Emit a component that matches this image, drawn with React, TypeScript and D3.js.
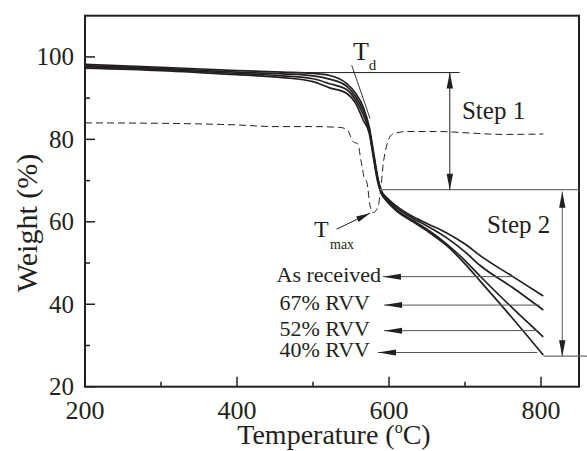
import React from "react";
import * as d3 from "d3";

// ---------- data ----------
const temps = [200, 300, 400, 460, 500, 522, 544, 556, 566, 574, 580, 585, 590, 597, 610, 630, 650, 676, 700, 720, 763, 803];
const asReceived = [98.2, 97.5, 96.7, 96.3, 96.0, 95.5, 93.6, 91.2, 87.9, 83.0, 76.5, 71.0, 67.5, 65.9, 63.8, 61.4, 59.6, 57.3, 54.6, 51.8, 46.7, 42.0];
const rvv67 = [97.9, 97.2, 96.3, 95.9, 95.4, 94.6, 92.9, 90.4, 87.0, 82.5, 76.0, 70.6, 67.2, 65.6, 63.4, 61.0, 59.0, 56.1, 52.7, 49.4, 44.0, 38.6];
const rvv52 = [97.6, 97.0, 96.0, 95.4, 94.7, 93.5, 92.1, 89.6, 86.0, 82.0, 75.5, 70.2, 67.0, 65.3, 62.9, 60.5, 58.2, 54.6, 50.6, 46.8, 39.0, 32.1];
const rvv40 = [97.3, 96.7, 95.7, 95.0, 94.0, 92.5, 91.2, 88.8, 84.7, 81.5, 75.0, 69.8, 66.8, 65.0, 62.6, 60.2, 57.8, 54.2, 49.8, 45.6, 36.5, 27.7];

const dtgTemps = [200, 300, 400, 450, 500, 535, 545, 550, 553, 559, 563, 567, 571, 575, 579, 583, 586, 590, 592, 595, 598, 605, 624, 667, 700, 750, 803];
const dtgValues = [84.0, 83.9, 83.5, 83.1, 83.1, 82.9, 82.4, 80.5, 79.4, 78.9, 75.0, 71.0, 69.5, 64.0, 62.2, 62.8, 64.0, 69.5, 73.4, 77.0, 79.2, 81.3, 81.9, 81.9, 81.6, 81.2, 81.3];

const seriesNames = ["As received", "67% RVV", "52% RVV", "40% RVV"];
const seriesValues = [asReceived, rvv67, rvv52, rvv40];
// legend arrows: level (weight), tip temperature, tail temperature
const legendLevels = [46.7, 39.8, 33.6, 28.3];
const legendTips = [592, 593.5, 593.5, 585.5];
const legendTails = [763, 798, 795, 795];
const legendTextEnds = [589.5, 575, 575, 575];

const xMajor = [200, 400, 600, 800];
const xMinor = [300, 500, 700];
const yMajor = [20, 40, 60, 80, 100];
const yMinor = [30, 50, 70, 90];

// annotation levels (data units)
const tdLevel = 96.2;
const step2Level = 67.8;
const endLevel = 27.4;

const W = 587;
const H = 451;
const ink = "#231f20";
const font = "Liberation Serif, Times New Roman, Times, serif";
const ts = { fontFamily: font } as React.CSSProperties;

function Arrowhead({ tip, from, len = 16, half = 3.2, fill = ink }: { tip: [number, number]; from: [number, number]; len?: number; half?: number; fill?: string }) {
  const dx = tip[0] - from[0];
  const dy = tip[1] - from[1];
  const d = Math.hypot(dx, dy) || 1;
  const ux = dx / d, uy = dy / d;
  const bx = tip[0] - ux * len, by = tip[1] - uy * len;
  const px = -uy * half, py = ux * half;
  const pts = [tip, [bx + px, by + py], [bx - px, by - py]].map((p) => p.join(",")).join(" ");
  return <polygon points={pts} fill={fill} />;
}

export default function App() {
  const x = d3.scaleLinear().domain([200, 850]).range([85, 579]);
  const y = d3.scaleLinear().domain([20, 110]).range([386.7, 15.7]);

  const line = d3
    .line<[number, number]>()
    .x((d) => x(d[0]))
    .y((d) => y(d[1]))
    .curve(d3.curveMonotoneX);

  const series = seriesValues.map((vals) => vals.map((v, i) => [temps[i], v] as [number, number]));
  const dtg = dtgValues.map((v, i) => [dtgTemps[i], v] as [number, number]);

  const [x0, x1] = x.range();
  const [yb, yt] = y.range();

  return (
    <svg width={W} height={H} style={{ position: "absolute", left: 0, top: 0, background: "#fff", fontFamily: font }}>
      <rect x={0} y={0} width={W} height={H} fill="#fff" />
      {/* curves */}
      {series.map((s, i) => (
        <path key={i} d={line(s) || ""} fill="none" stroke={ink} strokeWidth={1.7} />
      ))}
      <path d={line(dtg) || ""} fill="none" stroke={ink} strokeWidth={1} strokeDasharray="7,4" />

      {/* frame */}
      <rect x={x0} y={yt} width={x1 - x0} height={yb - yt} fill="none" stroke={ink} strokeWidth={2} />

      {/* ticks */}
      {xMajor.map((t) => (
        <g key={"xm" + t}>
          <line x1={x(t)} x2={x(t)} y1={yb} y2={yb - 10} stroke={ink} strokeWidth={1.5} />
          <text style={ts} x={x(t)} y={yb + 32} textAnchor="middle" fontSize={26} fill={ink}>{t}</text>
        </g>
      ))}
      {xMinor.map((t) => (
        <line key={"xn" + t} x1={x(t)} x2={x(t)} y1={yb} y2={yb - 5} stroke={ink} strokeWidth={1.5} />
      ))}
      {yMajor.map((t) => (
        <g key={"ym" + t}>
          <line x1={x0} x2={x0 + 10} y1={y(t)} y2={y(t)} stroke={ink} strokeWidth={1.5} />
          <text style={ts} x={74} y={y(t) + 8.5} textAnchor="end" fontSize={25} fill={ink}>{t}</text>
        </g>
      ))}
      {yMinor.map((t) => (
        <line key={"yn" + t} x1={x0} x2={x0 + 5} y1={y(t)} y2={y(t)} stroke={ink} strokeWidth={1.5} />
      ))}

      {/* axis labels */}
      <text style={ts} x={334} y={444} textAnchor="middle" fontSize={28} fill={ink}>
        Temperature (<tspan dy={-11} fontSize={16}>o</tspan><tspan dy={11}>C)</tspan>
      </text>
      <text style={ts} transform={`translate(37,223) rotate(-90)`} textAnchor="middle" fontSize={30} fill={ink}>
        Weight (%)
      </text>

      {/* Td annotation */}
      <line x1={x(457)} x2={x(693)} y1={y(tdLevel)} y2={y(tdLevel)} stroke={ink} strokeWidth={1} />
      <line x1={x(550.9)} y1={y(98.0)} x2={x(575)} y2={y(85.1)} stroke={ink} strokeWidth={0.9} />
      <text style={ts} x={x(552.6)} y={y(99.3)} fontSize={26} fill={ink}>T</text>
      <text style={ts} x={x(573.5)} y={y(96.9)} fontSize={15} fill={ink}>d</text>

      {/* Step 1 */}
      <line x1={x(588)} x2={x(850)} y1={y(step2Level)} y2={y(step2Level)} stroke="#6f6f6f" strokeWidth={1.2} />
      <line x1={x(680)} x2={x(680)} y1={y(tdLevel)} y2={y(step2Level)} stroke={ink} strokeWidth={1} />
      <Arrowhead tip={[x(680), y(tdLevel)]} from={[x(680), y(step2Level)]} />
      <Arrowhead tip={[x(680), y(step2Level)]} from={[x(680), y(tdLevel)]} />
      <text style={ts} x={x(696)} y={y(85.0)} fontSize={25} fill={ink}>Step 1</text>

      {/* Step 2 */}
      <line x1={x(803)} x2={W} y1={y(endLevel)} y2={y(endLevel)} stroke="#6f6f6f" strokeWidth={1.2} />
      <line x1={x(828)} x2={x(828)} y1={y(step2Level) + 2} y2={y(endLevel)} stroke="#555" strokeWidth={1} />
      <Arrowhead tip={[x(828), y(step2Level) + 2]} from={[x(828), y(endLevel)]} />
      <Arrowhead tip={[x(828), y(endLevel)]} from={[x(828), y(step2Level)]} />
      <text style={ts} x={x(729)} y={y(57.3)} fontSize={25} fill={ink}>Step 2</text>

      {/* Tmax */}
      <line x1={x(531)} y1={y(58.2)} x2={x(575)} y2={y(62.1)} stroke={ink} strokeWidth={1} />
      <Arrowhead tip={[x(575), y(62.1)]} from={[x(531), y(58.2)]} len={14} half={3} />
      <text style={ts} x={x(501.3)} y={y(56.3)} fontSize={24} fill={ink}>T</text>
      <text style={ts} x={x(522.4)} y={y(53.4)} fontSize={14} fill={ink}>max</text>

      {/* legend labels with arrows */}
      {seriesNames.map((name, i) => (
        <g key={name}>
          <line x1={x(legendTips[i])} x2={x(legendTails[i])} y1={y(legendLevels[i])} y2={y(legendLevels[i])} stroke="#555" strokeWidth={1} />
          <Arrowhead tip={[x(legendTips[i]), y(legendLevels[i])]} from={[x(legendTails[i]), y(legendLevels[i])]} len={18} half={3} />
          <text style={ts} x={x(legendTextEnds[i])} y={y(legendLevels[i]) + 5} textAnchor="end" fontSize={22} fill={ink}>
            {name}
          </text>
        </g>
      ))}
    </svg>
  );
}
